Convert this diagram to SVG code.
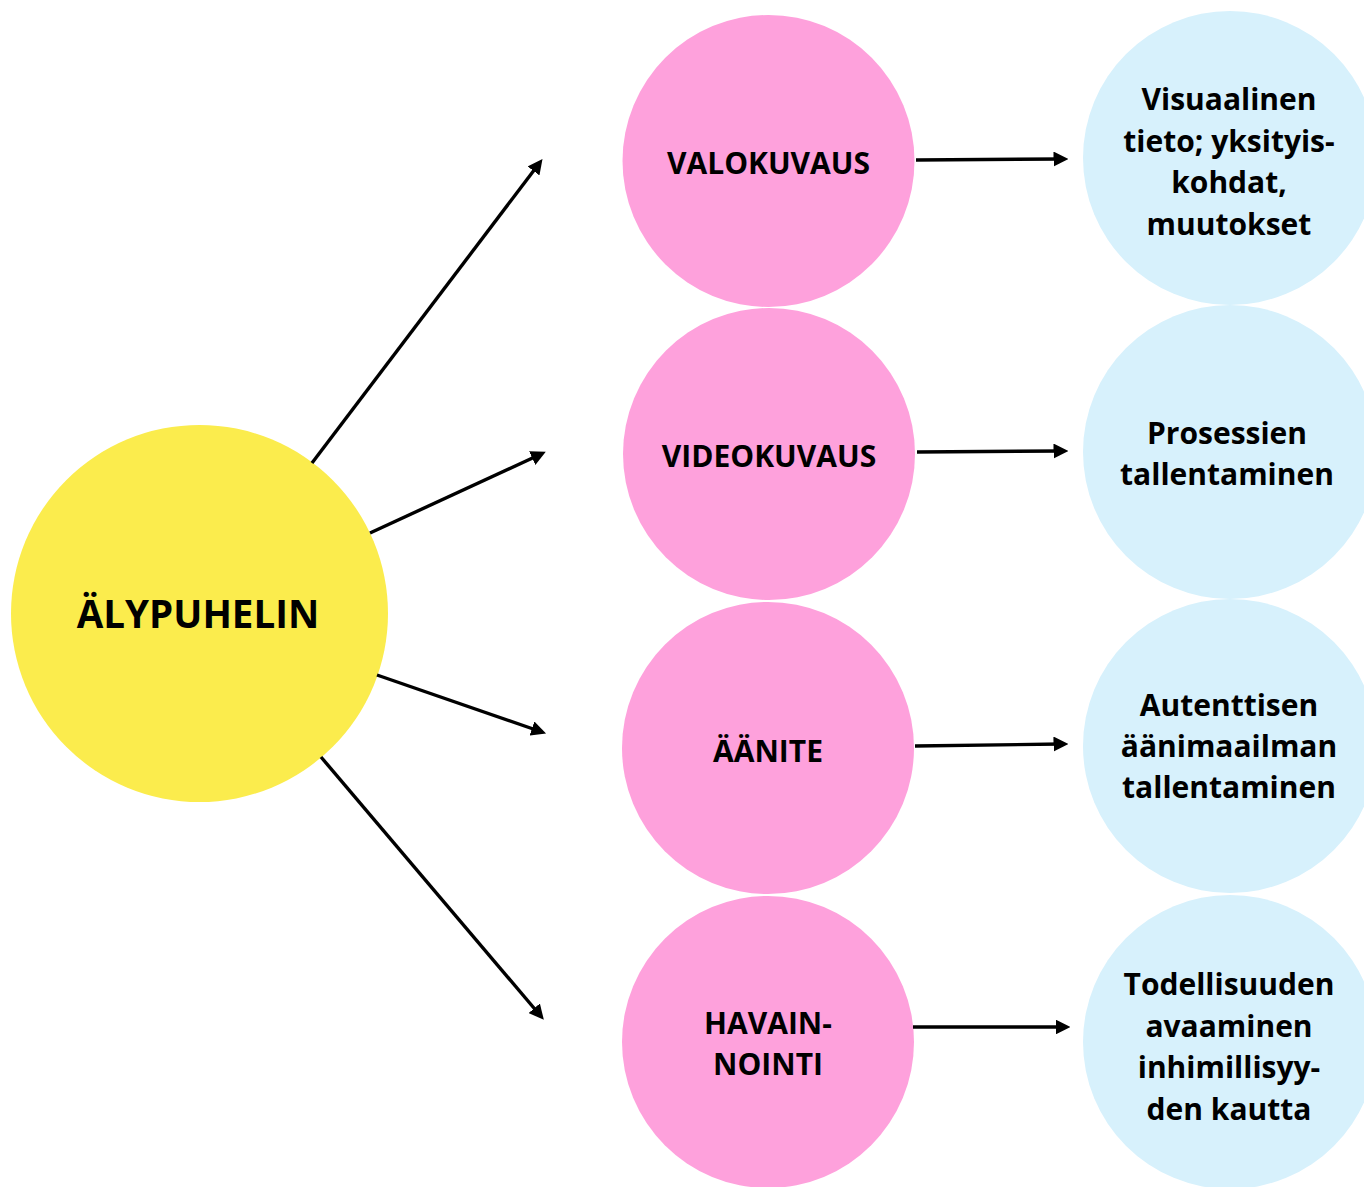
<svg xmlns="http://www.w3.org/2000/svg" width="1364" height="1187" viewBox="0 0 1364 1187">
<defs>
<style>
.t{font-family:"Open Sans","Liberation Sans",sans-serif;font-weight:700;fill:#000;text-anchor:middle}
.main{font-size:38.5px}
.pk{font-size:30px}
.bl{font-size:30px}
.y{fill:#FBEC4D}
.p{fill:#FEA1DC}
.b{fill:#D7F1FC}
.c{stroke:#000;stroke-width:3.4;fill:none;marker-end:url(#ah)}
</style>
<marker id="ah" viewBox="0 0 10 10" refX="5" refY="5" markerWidth="4.4" markerHeight="4.4" orient="auto" markerUnits="strokeWidth">
<path d="M0,0 L10,5 L0,10 Z" fill="#000"/>
</marker>
</defs>
<rect width="1364" height="1187" fill="#fff"/>
<g id="n-alypuhelin">
<circle class="y" cx="199.5" cy="613.5" r="188.5"/>
<text class="t main" x="198" y="628">ÄLYPUHELIN</text>
</g>
<g id="n-valokuvaus">
<circle class="p" cx="768.5" cy="161" r="146"/>
<text class="t pk" x="768.5" y="174">VALOKUVAUS</text>
</g>
<g id="n-videokuvaus">
<circle class="p" cx="769" cy="454" r="146"/>
<text class="t pk" x="769" y="467">VIDEOKUVAUS</text>
</g>
<g id="n-aanite">
<circle class="p" cx="768" cy="748" r="146"/>
<text class="t pk" x="768" y="762">ÄÄNITE</text>
</g>
<g id="n-havainnointi">
<circle class="p" cx="768" cy="1042" r="146"/>
<text class="t pk" x="768" y="1034">HAVAIN-</text>
<text class="t pk" x="768" y="1075">NOINTI</text>
</g>
<g id="n-visuaalinen">
<circle class="b" cx="1230" cy="158" r="147"/>
<text class="t bl" x="1229" y="110">Visuaalinen</text>
<text class="t bl" x="1229" y="152">tieto; yksityis-</text>
<text class="t bl" x="1229" y="193">kohdat,</text>
<text class="t bl" x="1229" y="235">muutokset</text>
</g>
<g id="n-prosessien">
<circle class="b" cx="1230" cy="452" r="147"/>
<text class="t bl" x="1227" y="444">Prosessien</text>
<text class="t bl" x="1227" y="485">tallentaminen</text>
</g>
<g id="n-autenttisen">
<circle class="b" cx="1230" cy="746" r="147"/>
<text class="t bl" x="1229" y="716">Autenttisen</text>
<text class="t bl" x="1229" y="757">äänimaailman</text>
<text class="t bl" x="1229" y="798">tallentaminen</text>
</g>
<g id="n-todellisuuden">
<circle class="b" cx="1230" cy="1042" r="147"/>
<text class="t bl" x="1229" y="995">Todellisuuden</text>
<text class="t bl" x="1229" y="1037">avaaminen</text>
<text class="t bl" x="1229" y="1078">inhimillisyy-</text>
<text class="t bl" x="1229" y="1120">den kautta</text>
</g>
<g id="connectors">
<line class="c" x1="312" y1="463" x2="538" y2="165"/>
<line class="c" x1="370" y1="533" x2="539" y2="455"/>
<line class="c" x1="377" y1="675" x2="539" y2="731"/>
<line class="c" x1="321" y1="757" x2="539" y2="1014"/>
<line class="c" x1="916" y1="160" x2="1061" y2="159"/>
<line class="c" x1="917" y1="452" x2="1061" y2="451"/>
<line class="c" x1="915" y1="746" x2="1061" y2="744"/>
<line class="c" x1="913" y1="1027" x2="1063" y2="1027"/>
</g>
</svg>
